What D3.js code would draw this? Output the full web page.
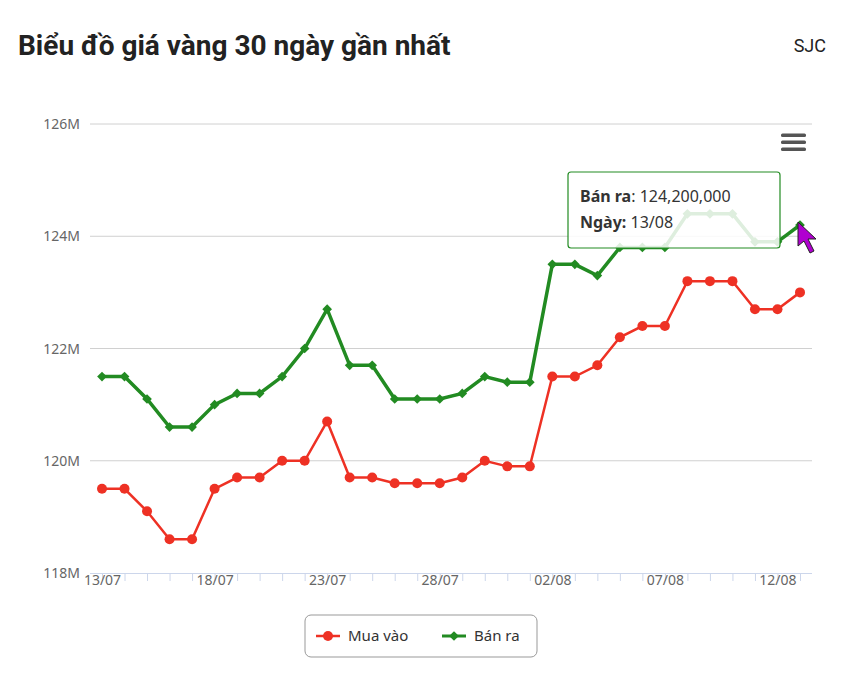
<!DOCTYPE html>
<html><head><meta charset="utf-8">
<script src="https://cdn.jsdelivr.net/npm/d3@7"></script>
<style>body{margin:0;background:#fff;font-family:"Noto Sans",Roboto,sans-serif}</style>
</head><body><div id="chart"></div>
<script>
var dates = ["13/07","14/07","15/07","16/07","17/07","18/07","19/07","20/07","21/07","22/07","23/07","24/07","25/07","26/07","27/07","28/07","29/07","30/07","31/07","01/08","02/08","03/08","04/08","05/08","06/08","07/08","08/08","09/08","10/08","11/08","12/08","13/08"];
var muaVao = [119.5,119.5,119.1,118.6,118.6,119.5,119.7,119.7,120.0,120.0,120.7,119.7,119.7,119.6,119.6,119.6,119.7,120.0,119.9,119.9,121.5,121.5,121.7,122.2,122.4,122.4,123.2,123.2,123.2,122.7,122.7,123.0];
var banRa = [121.5,121.5,121.1,120.6,120.6,121.0,121.2,121.2,121.5,122.0,122.7,121.7,121.7,121.1,121.1,121.1,121.2,121.5,121.4,121.4,123.5,123.5,123.3,123.8,123.8,123.8,124.4,124.4,124.4,123.9,123.9,124.2];
var yTicks = [118,120,122,124,126];

var W = 842, H = 674;
var svg = d3.select("#chart").append("svg").attr("width", W).attr("height", H);

var x = d3.scaleLinear().domain([0, dates.length - 1]).range([102, 800]);
var y = d3.scaleLinear().domain([118, 126]).range([573, 124]);

svg.append("text").attr("x", 18).attr("y", 55).attr("font-size", 28).attr("font-weight", "bold")
    .attr("font-family", "Roboto,sans-serif").attr("fill", "#222").text("Biểu đồ giá vàng 30 ngày gần nhất");
svg.append("text").attr("x", 826).attr("y", 52).attr("text-anchor", "end").attr("font-size", 18)
    .attr("font-family", "Roboto,sans-serif").attr("fill", "#222").text("SJC");

// grid + y labels
svg.selectAll(".grid").data(yTicks).enter().append("line")
    .attr("x1", 90).attr("x2", 812).attr("y1", d => y(d)).attr("y2", d => y(d))
    .attr("stroke", d => d == 118 ? "none" : "#d0d0d0").attr("stroke-width", 1);
svg.selectAll(".ylab").data(yTicks).enter().append("text")
    .attr("x", 80).attr("y", d => y(d) + 5).attr("text-anchor", "end")
    .attr("font-size", 14).attr("fill", "#666").text(d => d + "M");

// x axis
var xAxis = d3.axisBottom(x).tickValues(d3.range(dates.length)).tickSize(8)
    .tickFormat(i => i % 5 == 0 ? dates[i] : "");
var gx = svg.append("g").attr("transform", "translate(0,573)").call(xAxis);
gx.select(".domain").attr("stroke", "#ccd6eb").attr("d", "M90,0.5H812");
gx.selectAll(".tick line").attr("stroke", "#ccd6eb");
gx.selectAll(".tick text").attr("font-size", 14).attr("fill", "#666").attr("dy", "0.1em")
    .attr("font-family", "'Noto Sans',sans-serif");

var line = d3.line().x((d, i) => x(i)).y(d => y(d));

svg.append("path").datum(muaVao).attr("d", line).attr("fill", "none")
    .attr("stroke", "#ee3124").attr("stroke-width", 2.5);
svg.selectAll(".red").data(muaVao).enter().append("circle")
    .attr("cx", (d, i) => x(i)).attr("cy", d => y(d)).attr("r", 5).attr("fill", "#ee3124");

svg.append("path").datum(banRa).attr("d", line).attr("fill", "none")
    .attr("stroke", "#228b22").attr("stroke-width", 3.5);
var diamond = d3.symbol().type(d3.symbolDiamond2).size(60);
svg.selectAll(".grn").data(banRa).enter().append("path")
    .attr("d", diamond).attr("transform", (d, i) => `translate(${x(i)},${y(d)})`)
    .attr("fill", "#228b22");

// menu icon
[135, 142, 149].forEach(v => svg.append("rect").attr("x", 781).attr("y", v - 1.5)
    .attr("width", 25).attr("height", 3.5).attr("rx", 1.5).attr("fill", "#555"));

// tooltip
var tip = svg.append("g");
tip.append("rect").attr("x", 568).attr("y", 172).attr("width", 212).attr("height", 76).attr("rx", 3)
    .attr("fill", "#fff").attr("fill-opacity", 0.85).attr("stroke", "#228b22").attr("stroke-width", 1.2);
var t1 = tip.append("text").attr("x", 580).attr("y", 202).attr("font-size", 16).attr("fill", "#333");
t1.append("tspan").attr("font-weight", "bold").text("Bán ra");
t1.append("tspan").text(": " + d3.format(",")(banRa[31] * 1e6));
var t2 = tip.append("text").attr("x", 580).attr("y", 228).attr("font-size", 16).attr("fill", "#333");
t2.append("tspan").attr("font-weight", "bold").text("Ngày:");
t2.append("tspan").text(" " + dates[31]);

// cursor
svg.append("path").attr("d", "M798,222 L798,246 L804,241 L810,253 L814,251 L808,239 L816,239 Z")
    .attr("fill", "#b000d0").attr("stroke", "#222").attr("stroke-width", 1);

// legend
var lg = svg.append("g");
lg.append("rect").attr("x", 305).attr("y", 615).attr("width", 232).attr("height", 42).attr("rx", 6)
    .attr("fill", "#fff").attr("stroke", "#999");
lg.append("line").attr("x1", 316).attr("x2", 340).attr("y1", 636).attr("y2", 636).attr("stroke", "#ee3124").attr("stroke-width", 2.5);
lg.append("circle").attr("cx", 328).attr("cy", 636).attr("r", 5).attr("fill", "#ee3124");
lg.append("text").attr("x", 348).attr("y", 641).attr("font-size", 15).attr("fill", "#333").text("Mua vào");
lg.append("line").attr("x1", 442).attr("x2", 466).attr("y1", 636).attr("y2", 636).attr("stroke", "#228b22").attr("stroke-width", 3);
lg.append("path").attr("d", diamond).attr("transform", "translate(454,636)").attr("fill", "#228b22");
lg.append("text").attr("x", 474).attr("y", 641).attr("font-size", 15).attr("fill", "#333").text("Bán ra");
</script></body></html>
